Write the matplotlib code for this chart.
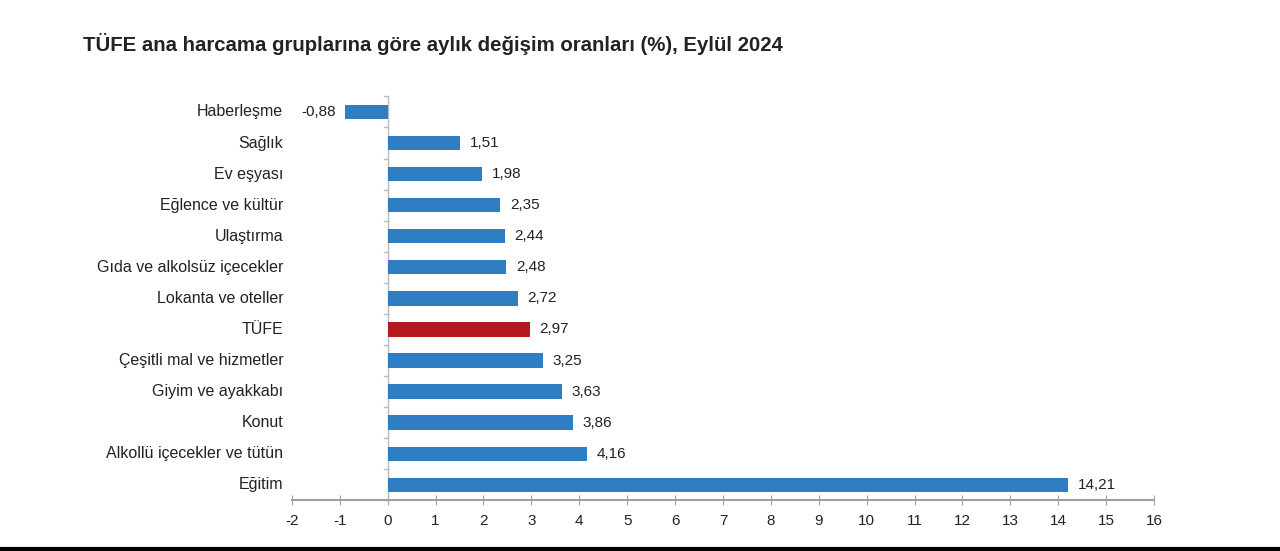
import matplotlib
matplotlib.use("Agg")
import matplotlib.pyplot as plt
from matplotlib.lines import Line2D

plt.rcParams['font.family'] = ['Liberation Sans', 'DejaVu Sans']

categories = ["Haberleşme", "Sağlık", "Ev eşyası", "Eğlence ve kültür", "Ulaştırma",
              "Gıda ve alkolsüz içecekler", "Lokanta ve oteller", "TÜFE",
              "Çeşitli mal ve hizmetler", "Giyim ve ayakkabı", "Konut",
              "Alkollü içecekler ve tütün", "Eğitim"]
values = [-0.88, 1.51, 1.98, 2.35, 2.44, 2.48, 2.72, 2.97, 3.25, 3.63, 3.86, 4.16, 14.21]
value_labels = ["-0,88", "1,51", "1,98", "2,35", "2,44", "2,48", "2,72", "2,97",
                "3,25", "3,63", "3,86", "4,16", "14,21"]
xticks = list(range(-2, 17))
title = "TÜFE ana harcama gruplarına göre aylık değişim oranları (%), Eylül 2024"

blue = "#2f7dc3"
red = "#b3191d"
colors = [red if c == "TÜFE" else blue for c in categories]

fig = plt.figure(figsize=(12.8, 5.51), dpi=100)
ax = fig.add_axes([0.228, 0.092, 0.6736, 0.733])

n = len(categories)
ypos = list(range(n))
ax.barh(ypos, values, height=0.46, color=colors, zorder=3)
ax.set_ylim(n - 0.5, -0.5)
ax.set_xlim(-2, 16)

ax.set_xticks(xticks)
ax.set_xticklabels([str(t) for t in xticks], fontsize=11, color="#222222")
ax.tick_params(axis='x', direction='inout', length=7, color="#a0a0a0", pad=6)

for s in ["top", "right", "left"]:
    ax.spines[s].set_visible(False)
ax.spines["bottom"].set_color("#a0a0a0")
ax.spines["bottom"].set_linewidth(1.5)

ax.set_yticks([])
# y axis at zero
ax.axvline(0, color="#bbbbbb", lw=1, zorder=2)
for i in range(n + 1):
    ax.plot([-0.08, 0], [i - 0.5, i - 0.5], color="#bbbbbb", lw=1, clip_on=False, zorder=2)

for i, (c, v, lab) in enumerate(zip(categories, values, value_labels)):
    ax.text(-0.01, i, c, transform=ax.get_yaxis_transform(), ha="right", va="center",
            fontsize=11.5, color="#222222")
    if v < 0:
        ax.text(v - 0.2, i, lab, ha="right", va="center", fontsize=11, color="#222222")
    else:
        ax.text(v + 0.2, i, lab, ha="left", va="center", fontsize=11, color="#222222")

fig.text(83 / 1280, 1 - 44 / 551, title, fontsize=14.7, fontweight="bold",
         ha="left", va="center", color="#222222")

fig.add_artist(Line2D([0, 1], [0.003, 0.003], transform=fig.transFigure, color="black", lw=3))

fig.savefig("out.png", dpi=100)
